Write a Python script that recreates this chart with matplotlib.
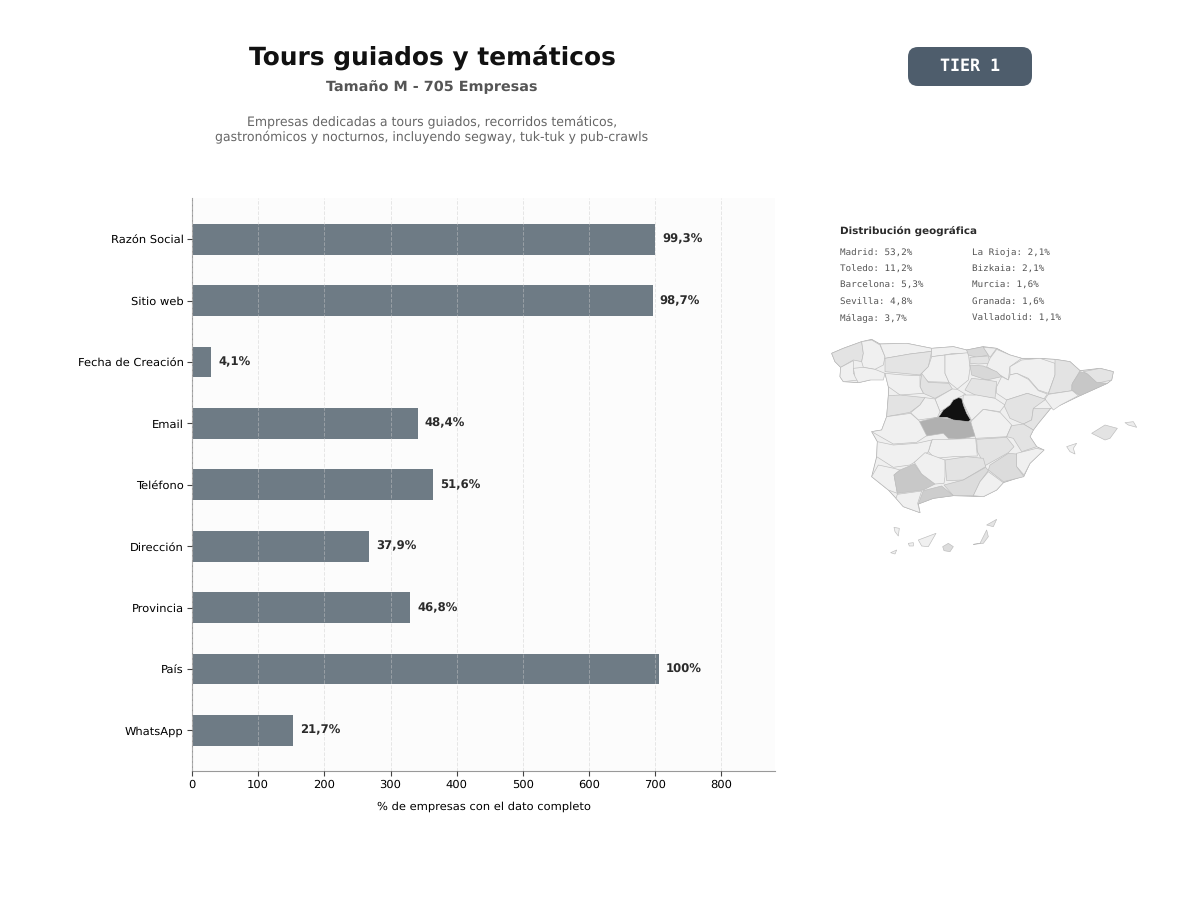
import matplotlib
matplotlib.use("Agg")
import matplotlib.pyplot as plt
from matplotlib.collections import PolyCollection
from matplotlib.colors import LinearSegmentedColormap, LogNorm
from matplotlib.patches import FancyBboxPatch, Polygon

plt.rcParams["text.hinting"] = "no_hinting"

#-------------------------------------------------------------------------

campos = ["Razón Social", "Sitio web", "Fecha de Creación", "Email", "Teléfono",
          "Dirección", "Provincia", "País", "WhatsApp"]
empresas = [700, 696, 29, 341, 364, 267, 330, 705, 153]
etiquetas = ["99,3%", "98,7%", "4,1%", "48,4%", "51,6%", "37,9%", "46,8%", "100%", "21,7%"]

xticks = [0, 100, 200, 300, 400, 500, 600, 700, 800]

geo_col1 = ["Madrid: 53,2%", "Toledo: 11,2%", "Barcelona: 5,3%", "Sevilla: 4,8%", "Málaga: 3,7%"]
geo_col2 = ["La Rioja: 2,1%", "Bizkaia: 2,1%", "Murcia: 1,6%", "Granada: 1,6%", "Valladolid: 1,1%"]

# outline of the mainland
peninsula = [(35,70),(70,55),(125,35),(155,28),(180,42),(260,40),(335,55),(400,50),(440,60),(490,50),
             (530,55),(570,75),(605,85),(660,85),(705,88),(750,95),(780,122),(840,115),(880,125),(875,150),
             (862,160),(780,197),(722,225),(692,235),(655,280),(640,300),(630,320),(650,350),(672,360),(630,400),
             (612,438),(550,458),(530,480),(490,500),(400,497),(340,505),(295,522),(300,548),(250,530),(228,505),
             (205,480),(155,440),(170,380),(172,335),(155,305),(185,300),(200,260),(205,197),(205,170),(195,130),
             (150,150),(115,158),(70,155),(60,140),(62,112),(45,95)]

# outlines, share of companies per province
provincias = {
    "A Coruña": (1.0, [(35,70),(70,55),(125,35),(130,70),(125,95),(100,90),(62,112),(45,95)]),
    "Pontevedra": (0.3, [(62,112),(100,92),(100,130),(115,150),(70,155),(60,140)]),
    "Lugo": (0.3, [(125,35),(155,30),(180,45),(195,80),(190,105),(165,118),(130,112),(125,95),(130,70)]),
    "Ourense": (0.3, [(100,115),(130,112),(165,118),(195,130),(190,150),(150,150),(115,158),(105,140)]),
    "Asturias": (0.3, [(180,42),(260,40),(335,55),(335,64),(270,72),(195,85),(195,80)]),
    "León": (0.9, [(195,85),(270,72),(335,64),(325,110),(300,135),(250,130),(195,125)]),
    "Cantabria": (0.3, [(335,55),(400,50),(440,60),(445,70),(400,70),(375,75),(335,80)]),
    "Palencia": (0.3, [(335,80),(375,75),(375,130),(387,157),(325,155),(300,135),(325,110)]),
    "Burgos": (0.3, [(375,75),(445,68),(450,115),(445,150),(412,177),(387,157),(375,130)]),
    "Bizkaia": (2.1, [(440,60),(490,50),(505,75),(470,82),(445,75)]),
    "Gipuzkoa": (0.4, [(490,52),(530,55),(510,82),(505,75)]),
    "Álava": (1.0, [(450,82),(505,78),(510,100),(475,102),(450,100)]),
    "Navarra": (0.3, [(530,58),(570,75),(605,85),(570,110),(565,150),(540,135),(500,110),(510,85)]),
    "La Rioja": (2.1, [(450,105),(490,108),(530,125),(545,140),(500,150),(455,135)]),
    "Huesca": (0.3, [(605,90),(660,85),(705,100),(705,135),(685,190),(655,180),(625,145),(590,130),(570,135),(570,110)]),
    "Zaragoza": (0.3, [(570,135),(590,130),(625,148),(655,182),(682,192),(672,207),(622,190),(560,210),(530,190),(530,170),(545,140),(565,150)]),
    "Lleida": (1.0, [(705,88),(750,95),(780,122),(755,165),(757,182),(685,192),(705,135)]),
    "Girona": (0.9, [(790,125),(840,115),(880,125),(875,150),(830,160),(805,135)]),
    "Barcelona": (5.3, [(780,125),(800,130),(830,157),(862,160),(780,197),(755,180),(757,160)]),
    "Tarragona": (0.3, [(685,193),(757,182),(775,197),(722,225),(700,240),(675,207)]),
    "Soria": (0.9, [(455,145),(500,150),(530,155),(525,205),(470,197),(435,180)]),
    "Valladolid": (1.1, [(305,130),(325,157),(387,160),(397,177),(345,205),(310,190),(300,170)]),
    "Segovia": (0.3, [(397,177),(412,178),(437,193),(415,203),(395,225),(360,245),(345,207)]),
    "Zamora": (0.3, [(195,130),(250,135),(300,137),(300,170),(310,190),(240,195),(205,170)]),
    "Salamanca": (1.0, [(205,197),(240,195),(315,203),(300,225),(270,247),(200,260)]),
    "Ávila": (0.3, [(315,203),(345,207),(360,245),(352,262),(295,270),(272,248),(300,225)]),
    "Guadalajara": (0.3, [(430,195),(470,195),(525,205),(555,225),(540,245),(490,238),(455,272),(428,215)]),
    "Cuenca": (0.3, [(455,272),(490,238),(540,247),(575,285),(560,320),(467,325),(450,282)]),
    "Toledo": (11.2, [(298,275),(350,262),(400,268),(452,275),(465,318),(420,328),(385,325),(370,310),(320,318)]),
    "Madrid": (53.2, [(415,203),(425,205),(430,225),(440,250),(452,270),(445,275),(400,270),(380,262),(355,262),(360,255),(370,240),(390,225),(400,210)]),
    "Teruel": (1.0, [(560,210),(622,190),(677,208),(640,235),(635,270),(610,282),(570,265),(553,228)]),
    "Castellón": (0.9, [(640,235),(692,235),(655,280),(640,300),(610,282),(635,270)]),
    "Valencia": (1.0, [(575,287),(610,282),(640,300),(630,320),(650,350),(605,365),(580,325),(560,320)]),
    "Alicante": (0.3, [(590,370),(650,355),(672,360),(630,400),(612,435),(590,410)]),
    "Murcia": (1.6, [(510,405),(565,370),(590,372),(590,410),(612,440),(550,455),(505,420)]),
    "Albacete": (1.0, [(470,328),(560,322),(582,350),(565,368),(495,407),(472,365)]),
    "Ciudad Real": (0.3, [(325,365),(337,328),(385,328),(467,325),(472,378),(400,380),(345,385)]),
    "Cáceres": (0.3, [(200,260),(272,250),(297,272),(320,317),(290,337),(220,342),(155,305),(185,300)]),
    "Badajoz": (0.3, [(172,335),(220,345),(290,340),(335,330),(325,365),(283,397),(270,405),(220,412),(170,380)]),
    "Huelva": (0.3, [(175,405),(222,415),(240,420),(222,435),(232,490),(205,480),(155,440)]),
    "Sevilla": (4.8, [(222,435),(240,420),(283,402),(305,432),(345,462),(310,480),(232,490)]),
    "Córdoba": (0.3, [(283,397),(315,368),(375,390),(375,440),(372,460),(345,462),(305,432)]),
    "Jaén": (1.0, [(375,390),(440,380),(490,385),(497,410),(430,450),(380,452)]),
    "Granada": (1.6, [(372,465),(430,450),(497,412),(505,422),(480,455),(460,497),(400,497)]),
    "Almería": (0.3, [(505,425),(550,458),(530,480),(490,500),(460,497),(480,455)]),
    "Málaga": (3.7, [(295,522),(310,482),(365,468),(400,497),(340,505)]),
    "Cádiz": (0.3, [(232,493),(305,483),(293,520),(300,548),(250,530),(228,505)]),
    "Mallorca": (1.0, [(815,310),(855,285),(892,295),(870,325),(855,330)]),
    "Menorca": (0.4, [(915,278),(940,275),(950,292),(925,285)]),
    "Ibiza": (0.3, [(740,350),(770,340),(760,355),(765,372),(750,365)]),
    "Lanzarote": (0.9, [(500,585),(530,568),(520,590)]),
    "Fuerteventura": (1.0, [(460,643),(480,640),(500,600),(505,620),(490,640)]),
    "Gran Canaria": (1.6, [(368,650),(385,640),(400,650),(390,665),(372,662)]),
    "Tenerife": (0.3, [(295,630),(348,610),(325,650),(305,648)]),
    "La Gomera": (0.3, [(265,640),(280,638),(280,648),(268,648)]),
    "La Palma": (0.3, [(222,592),(238,595),(235,618),(225,605)]),
    "El Hierro": (0.3, [(212,668),(230,660),(225,672)]),
}

#-------------------------------------------------------------------------

fig = plt.figure(figsize = (12, 9), dpi = 100, facecolor = "white")

ax = fig.add_axes([192/1200, 1 - 771/900, (775 - 192)/1200, (771 - 198)/900])
ax.set_facecolor("#fcfcfc")

ax.barh(campos, empresas, height = 0.5, color = "#6e7b85", zorder = 2)

for i in range(len(campos)):
    ax.text(empresas[i] + 11, i, etiquetas[i], va = "center", ha = "left",
            fontsize = 8.4, fontweight = "bold", color = "#2b2b2b")

ax.set_xlim(0, 881)
ax.set_ylim(8.66, -0.67)
ax.set_xticks(xticks)
ax.tick_params(labelsize = 8.25, color = "#444444", length = 3.5, pad = 2.5)
ax.set_xlabel("% de empresas con el dato completo", fontsize = 8.25, labelpad = 8)
ax.grid(axis = "x", linestyle = "--", color = "#cccccc", alpha = 0.45, linewidth = 0.7, zorder = 3)
ax.set_axisbelow(False)

ax.spines["top"].set_visible(False)
ax.spines["right"].set_visible(False)
ax.spines["left"].set_color("#999999")
ax.spines["bottom"].set_color("#999999")

#-------------------------------------------------------------------------

page = fig.add_axes([0, 0, 1, 1], facecolor = "none")
page.set_xlim(0, 1200)
page.set_ylim(900, 0)
page.axis("off")

page.text(432, 57.5, "Tours guiados y temáticos", ha = "center", va = "center",
          fontsize = 17.9, fontweight = "bold", color = "#111111")
page.text(432, 87.5, "Tamaño M - 705 Empresas", ha = "center", va = "center",
          fontsize = 10.4, fontweight = "bold", color = "#555555")
page.text(432, 130, "Empresas dedicadas a tours guiados, recorridos temáticos,\ngastronómicos y nocturnos, incluyendo segway, tuk-tuk y pub-crawls",
          ha = "center", va = "center", fontsize = 9, color = "#666666", linespacing = 1.2)

page.add_patch(FancyBboxPatch((918, 57), 104, 19, boxstyle = "round,pad=10,rounding_size=10",
                              facecolor = "#4e5d6c", edgecolor = "none"))
page.text(970, 66, "TIER 1", ha = "center", va = "center", fontsize = 12,
          fontweight = "bold", family = "DejaVu Sans Mono", color = "white")

page.text(840, 230.5, "Distribución geográfica", ha = "left", va = "center",
          fontsize = 7.5, fontweight = "bold", color = "#2b2b2b")

for i in range(len(geo_col1)):
    page.text(840, 253 + i*16.3, geo_col1[i], ha = "left", va = "center", fontsize = 6.7,
              family = "DejaVu Sans Mono", color = "#555555")
    page.text(972, 253 + i*16.3, geo_col2[i], ha = "left", va = "center", fontsize = 6.7,
              family = "DejaVu Sans Mono", color = "#555555")

#-------------------------------------------------------------------------

mapa = fig.add_axes([820/1200, 1 - 565/900, 330/1200, 235/900], facecolor = "none")
mapa.set_xlim(0, 990)
mapa.set_ylim(705, 0)
mapa.axis("off")

mapa.add_patch(Polygon(peninsula, closed = True, facecolor = "#efefef", edgecolor = "#a8a8a8", linewidth = 0.5))

nombres = list(provincias)
shapes = [provincias[n][1] for n in nombres]
shares = [provincias[n][0] for n in nombres]

grises = LinearSegmentedColormap.from_list("grises", [(0, "#f0f0f0"), (0.25, "#e2e2e2"), (0.38, "#d8d8d8"),
                                                      (0.56, "#c6c6c6"), (0.70, "#b0b0b0"), (1, "#111111")])

coll = PolyCollection(shapes, array = shares, cmap = grises, norm = LogNorm(0.3, 53.2),
                      edgecolor = "#bcbcbc", linewidth = 0.45)
mapa.add_collection(coll)

plt.savefig("out.png", dpi = 100)
